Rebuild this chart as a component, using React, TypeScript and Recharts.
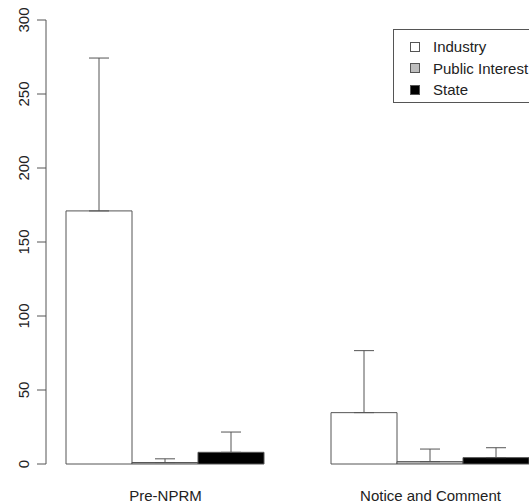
import { BarChart, Bar, XAxis, YAxis, ErrorBar, Legend } from 'recharts';

const phases = ['Pre-NPRM', 'Notice and Comment'];
const industry = [171, 34.7];
const industryErr = [103.3, 41.9];
const publicInterest = [1, 1.6];
const publicInterestErr = [2.5, 8.5];
const state = [7.9, 4.3];
const stateErr = [13.7, 6.7];
const yTicks = [0, 50, 100, 150, 200, 250, 300];

const data = phases.map((phase, i) => ({
  phase,
  industry: industry[i],
  industryErr: [0, industryErr[i]],
  publicInterest: publicInterest[i],
  publicInterestErr: [0, publicInterestErr[i]],
  state: state[i],
  stateErr: [0, stateErr[i]],
}));

const FONT = '"Liberation Sans", Arial, Helvetica, sans-serif';
const LINE = '#555';

const YTick = (props: any) => {
  const { x, y, payload } = props;
  const tx = x - 12;
  return (
    <text
      x={tx}
      y={y}
      transform={`rotate(-90, ${tx}, ${y})`}
      textAnchor="middle"
      dominantBaseline="central"
      fontSize={15}
      fontFamily={FONT}
      fill="#222"
    >
      {payload.value}
    </text>
  );
};

const XTick = (props: any) => {
  const { x, y, payload } = props;
  return (
    <text x={x} y={y + 31} textAnchor="middle" dominantBaseline="central" fontSize={15} fontFamily={FONT} fill="#222">
      {payload.value}
    </text>
  );
};

const LegendBox = (props: any) => {
  const { payload } = props;
  return (
    <div
      style={{
        border: `1px solid ${LINE}`,
        width: 170,
        padding: '6px 0 1px 16px',
        background: '#fff',
        fontFamily: FONT,
        fontSize: 15,
        color: '#222',
      }}
    >
      {(payload || []).map((entry: any) => (
        <div key={entry.value} style={{ display: 'flex', alignItems: 'center', height: 21.5, whiteSpace: 'nowrap' }}>
          <span
            style={{
              display: 'inline-block',
              width: 8,
              height: 8,
              border: `1px solid ${LINE}`,
              background: entry.color,
              marginRight: 13,
            }}
          />
          {entry.value}
        </div>
      ))}
    </div>
  );
};

export default function App() {
  return (
    <div style={{ position: 'fixed', left: 0, top: 0, width: 529, height: 504, overflow: 'hidden', background: '#fff' }}>
      <BarChart
        width={600}
        height={504}
        data={data}
        margin={{ top: 20, right: 37, bottom: 0, left: 0 }}
        barCategoryGap={33}
        barGap={0}
      >
        <XAxis
          dataKey="phase"
          axisLine={false}
          tickLine={false}
          tickSize={0}
          tickMargin={0}
          height={40}
          padding={{ left: -13, right: 0 }}
          tick={<XTick />}
          interval={0}
        />
        <YAxis
          domain={[0, 300]}
          ticks={yTicks}
          width={46}
          axisLine={{ stroke: LINE }}
          tickLine={{ stroke: LINE }}
          tickSize={9}
          tick={<YTick />}
        />
        <Legend
          layout="vertical"
          verticalAlign="middle"
          align="center"
          wrapperStyle={{ position: 'absolute', left: 393, top: 29, width: 'auto' }}
          content={<LegendBox />}
        />
        <Bar dataKey="industry" name="Industry" fill="#ffffff" stroke={LINE} strokeWidth={1} isAnimationActive={false}>
          <ErrorBar dataKey="industryErr" width={10} stroke={LINE} strokeWidth={1} direction="y" />
        </Bar>
        <Bar dataKey="publicInterest" name="Public Interest" fill="#bebebe" stroke={LINE} strokeWidth={1} isAnimationActive={false}>
          <ErrorBar dataKey="publicInterestErr" width={10} stroke={LINE} strokeWidth={1} direction="y" />
        </Bar>
        <Bar dataKey="state" name="State" fill="#000000" stroke={LINE} strokeWidth={1} isAnimationActive={false}>
          <ErrorBar dataKey="stateErr" width={10} stroke={LINE} strokeWidth={1} direction="y" />
        </Bar>
      </BarChart>
    </div>
  );
}
